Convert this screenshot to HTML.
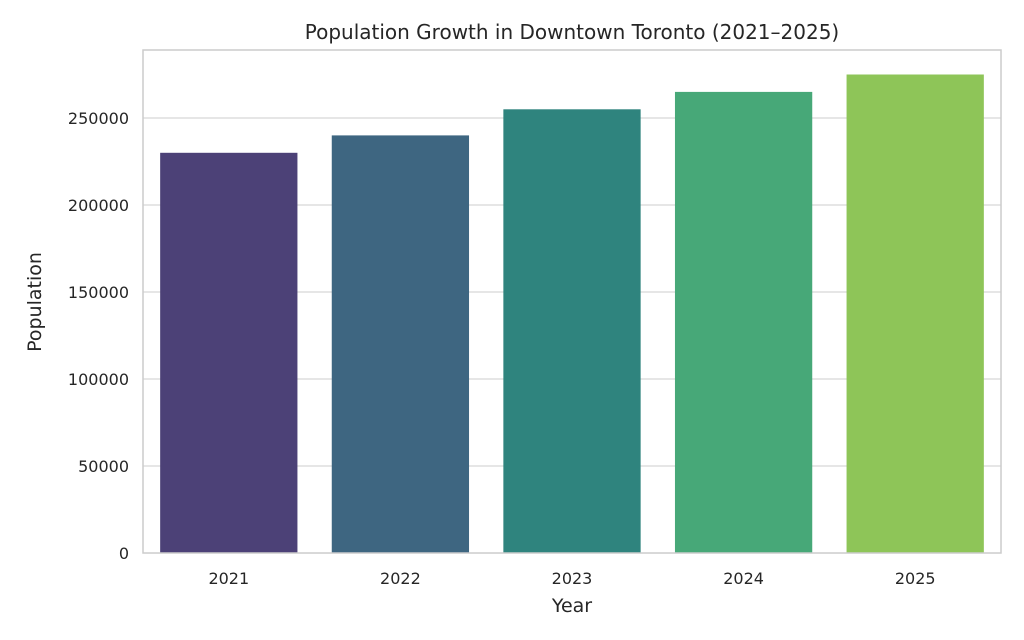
<!DOCTYPE html>
<html><head><meta charset="utf-8"><style>
body{margin:0;background:#fff;}
svg{display:block;font-family:"DejaVu Sans","Liberation Sans",sans-serif;}
</style></head><body>
<svg id="chart" width="1024" height="640" viewBox="0 0 1024 640">
<rect x="0" y="0" width="1024" height="640" fill="#ffffff"/>
<text x="572" y="39" text-anchor="middle" font-size="20" fill="#262626">Population Growth in Downtown Toronto (2021–2025)</text>
<g id="grid"></g>
<g id="bars"></g>
<rect x="143" y="50" width="858" height="503" fill="none" stroke="#cccccc" stroke-width="1.5"/>
<g id="xticks"></g><g id="yticks"></g>
<text x="572" y="612" text-anchor="middle" font-size="19" fill="#262626">Year</text>
<text transform="translate(41,302) rotate(-90)" text-anchor="middle" font-size="19" fill="#262626">Population</text>
</svg>
<script>
const categories=["2021","2022","2023","2024","2025"];
const values=[230000,240000,255000,265000,275000];
const yTicks=[0,50000,100000,150000,200000,250000];
const colors=["#4c4177","#3e6681","#2f847e","#47a878","#8ec558"];
const NS="http://www.w3.org/2000/svg";
const L=143,R=1001,T=50,B=553,YMAX=289080;
const y=v=>B-(v/YMAX)*(B-T);
const band=(R-L)/categories.length;
const x=i=>L+band*i;
function mk(tag,attrs,parent){const e=document.createElementNS(NS,tag);for(const k in attrs)e.setAttribute(k,attrs[k]);document.getElementById(parent).appendChild(e);return e;}
yTicks.forEach(t=>{
 if(t>0){const g=mk("line",{x1:L,x2:R,y1:y(t),y2:y(t),stroke:"#dddddd","stroke-width":1.5},"grid");
 
 }
 const tx=mk("text",{x:L-14,y:y(t)+6,"text-anchor":"end","font-size":16,fill:"#262626"},"yticks");
 tx.textContent=t;
 
 
});
categories.forEach((c,i)=>{
 const w=band*0.8;
 const r=mk("rect",{x:x(i)+band*0.1,y:y(values[i]),width:w,height:B-y(values[i]),fill:colors[i]},"bars");
 
 
 const tx=mk("text",{x:x(i)+band/2,y:B+31,"text-anchor":"middle","font-size":16,fill:"#262626"},"xticks");
 tx.textContent=c;
 
 
});
</script>
</body></html>
